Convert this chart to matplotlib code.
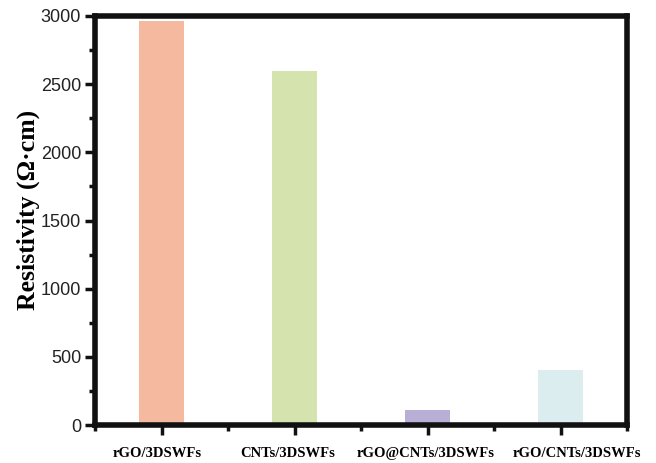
import numpy as np
import matplotlib
matplotlib.use("Agg")
import matplotlib.pyplot as plt
import matplotlib.transforms as mtransforms
from matplotlib.ticker import MultipleLocator, FixedLocator

# Data
samples = ["rGO/3DSWFs", "CNTs/3DSWFs", "rGO@CNTs/3DSWFs", "rGO/CNTs/3DSWFs"]
resistivity = [2960, 2600, 110, 400]
bar_colors = ["#F4B99E", "#D5E4AE", "#B9AED6", "#DCEDEF"]

fig = plt.figure(figsize=(6.56, 4.63), dpi=100)
ax = fig.add_axes([95 / 656, 1 - 425 / 463, 532 / 656, 409 / 463])

x = np.arange(len(samples))
ax.bar(x, resistivity, width=0.34, color=bar_colors)

ax.set_xlim(-0.5, 3.5)
ax.set_ylim(0, 3000)

# Spines
for side in ["left", "bottom", "top", "right"]:
    ax.spines[side].set_linewidth(4)
    ax.spines[side].set_color("#111111")

# Ticks
ax.set_xticks(x)
ax.set_xticklabels(samples, fontfamily="Liberation Serif", fontweight="bold", fontsize=10.5)
ax.xaxis.set_minor_locator(FixedLocator([-0.5, 0.5, 1.5, 2.5, 3.5]))
ax.yaxis.set_major_locator(MultipleLocator(500))
ax.yaxis.set_minor_locator(MultipleLocator(250))
ax.tick_params(axis="both", which="major", direction="out", length=7, width=2.5, color="#111111")
ax.tick_params(axis="both", which="minor", direction="out", length=4, width=2.5, color="#111111")
ax.tick_params(axis="x", which="major", pad=9)
ax.tick_params(axis="y", which="major", pad=3)
ax.tick_params(top=False, right=False, which="both")
for lbl in ax.get_yticklabels():
    lbl.set_fontfamily("Liberation Sans")
    lbl.set_fontsize(13)
    lbl.set_color("#222222")

# the category labels in the original sit a little off their ticks
label_shift_px = [-4, -7, -2, 16]
for lbl, dx in zip(ax.get_xticklabels(), label_shift_px):
    offset = mtransforms.ScaledTranslation(dx / 100, 0, fig.dpi_scale_trans)
    lbl.set_transform(lbl.get_transform() + offset)

ax.set_ylabel("Resistivity (Ω·cm)", fontfamily="Liberation Serif", fontweight="bold",
              fontsize=18.5, labelpad=4)
ax.yaxis.set_label_coords(-0.104, 0.525)

fig.savefig("out.png", dpi=100)
